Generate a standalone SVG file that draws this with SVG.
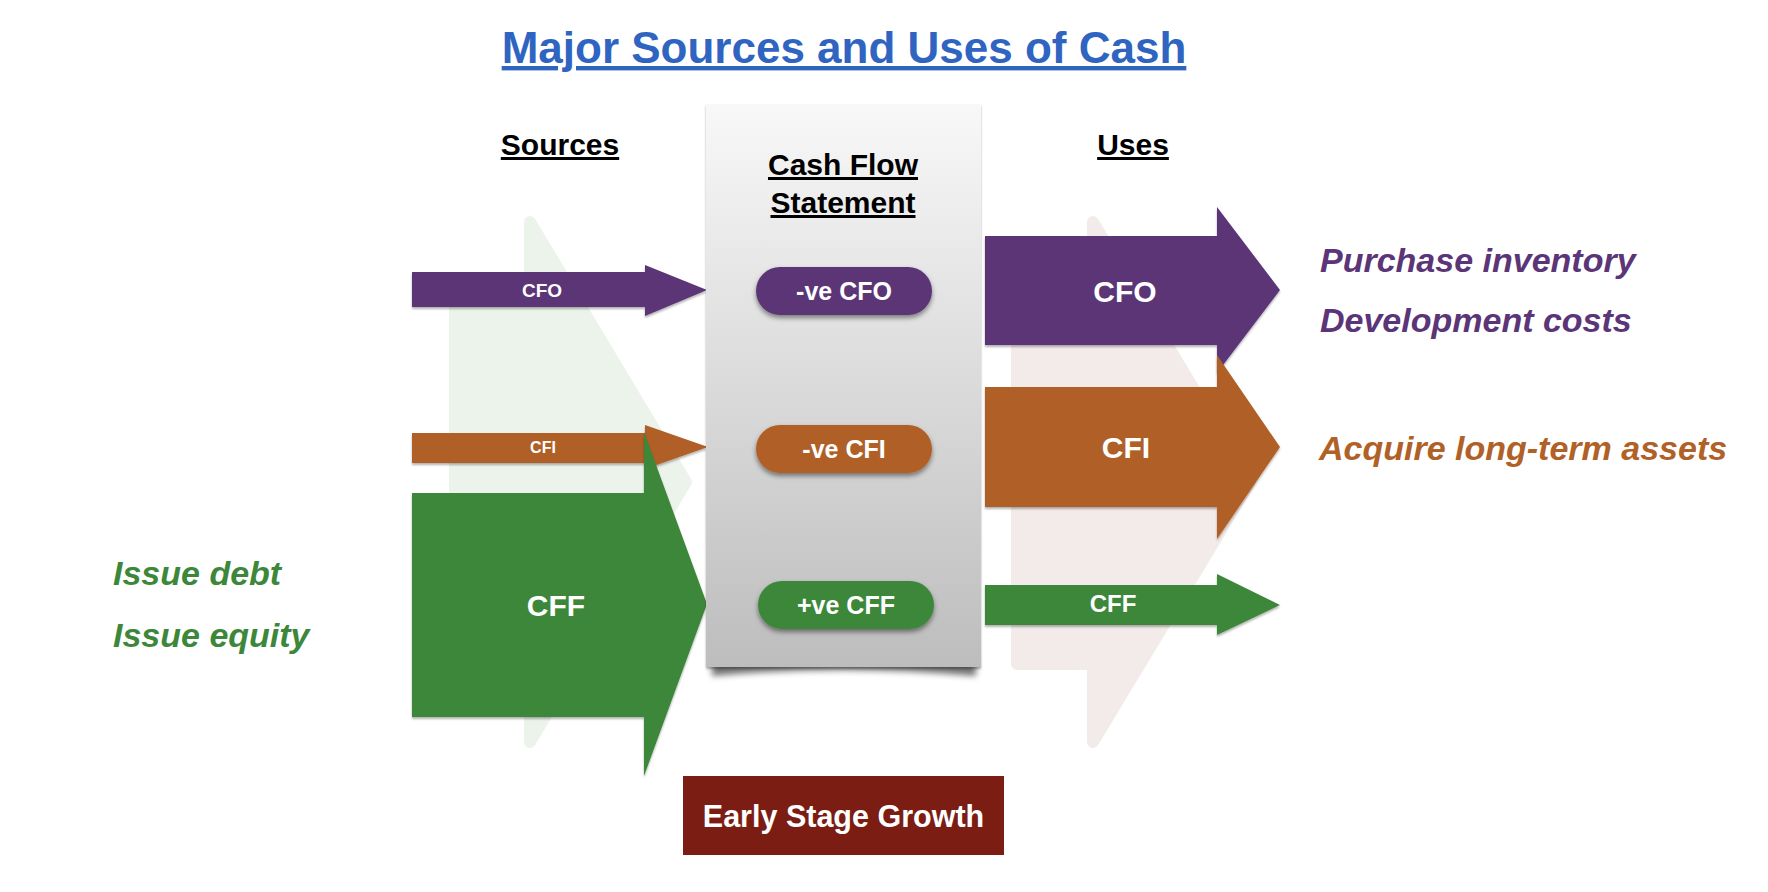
<svg xmlns="http://www.w3.org/2000/svg" width="1768" height="892" viewBox="0 0 1768 892">
  <defs>
    <linearGradient id="panelGrad" x1="0" y1="0" x2="0" y2="1">
      <stop offset="0" stop-color="#f8f8f8"/>
      <stop offset="1" stop-color="#bdbdbd"/>
    </linearGradient>
    <filter id="shadow" x="-10%" y="-10%" width="120%" height="130%">
      <feDropShadow dx="0" dy="3" stdDeviation="2.5" flood-color="#000" flood-opacity="0.45"/>
    </filter>
    <filter id="softShadow" x="-5%" y="-10%" width="110%" height="130%">
      <feDropShadow dx="0" dy="2" stdDeviation="1" flood-color="#000" flood-opacity="0.3"/>
    </filter>
    <filter id="blur" x="-10%" y="-50%" width="120%" height="200%">
      <feGaussianBlur stdDeviation="3"/>
    </filter>
  </defs>
  <style>
    text { font-family: "Liberation Sans", Arial, sans-serif; font-weight: bold; }
    .title { font-size: 44px; fill: #2f65c1; text-decoration: underline; }
    .head { font-size: 30px; fill: #000; text-decoration: underline; }
    .lbl { fill: #fff; text-anchor: middle; }
    .side { font-size: 34px; font-style: italic; }
    .purple { fill: #5b3577; }
    .orange { fill: #b06127; }
    .green { fill: #3d873b; }
    .faintG { fill: #ebf3eb; stroke: #ebf3eb; stroke-width: 12; stroke-linejoin: round; }
    .faintR { fill: #f3ebea; stroke: #f3ebea; stroke-width: 12; stroke-linejoin: round; }
  </style>

  <rect x="0" y="0" width="1768" height="892" fill="#ffffff"/>

  <!-- Title -->
  <text id="title" class="title" x="844" y="63" text-anchor="middle">Major Sources and Uses of Cash</text>
  <text id="sources-heading" class="head" x="560" y="155" text-anchor="middle">Sources</text>
  <text id="uses-heading" class="head" x="1133" y="155" text-anchor="middle">Uses</text>

  <!-- Faint background shapes -->
  <g id="bg-shapes">
    <path class="faintG" d="M530,222 L686,482 L530,742 L530,664 L455,664 L455,296 L530,296 Z"/>
    <path class="faintR" d="M1093,222 L1250,482 L1093,742 L1093,664 L1017,664 L1017,296 L1093,296 Z"/>
  </g>

  <!-- Connectors (arrows) -->
  <g id="connectors">
    <g id="src-cfo">
      <polygon class="purple" filter="url(#softShadow)" points="412,272 645,272 645,265 707,290 645,316 645,307 412,307"/>
      <text class="lbl" x="542" y="297" font-size="19">CFO</text>
    </g>
    <g id="src-cfi">
      <polygon class="orange" filter="url(#softShadow)" points="412,433 645,433 645,425 708,447 645,469 645,463 412,463"/>
      <text class="lbl" x="543" y="453" font-size="16">CFI</text>
    </g>
    <g id="src-cff">
      <polygon class="green" filter="url(#softShadow)" points="412,493 644,493 644,432 707,604 644,776 644,717 412,717"/>
      <text class="lbl" x="556" y="616" font-size="30">CFF</text>
    </g>
    <g id="use-cfo">
      <polygon class="purple" filter="url(#softShadow)" points="985,236 1217,236 1217,207 1280,290 1217,373 1217,345 985,345"/>
      <text class="lbl" x="1125" y="302" font-size="30">CFO</text>
    </g>
    <g id="use-cfi">
      <polygon class="orange" filter="url(#softShadow)" points="985,387 1217,387 1217,355 1280,447 1217,539 1217,507 985,507"/>
      <text class="lbl" x="1126" y="458" font-size="30">CFI</text>
    </g>
    <g id="use-cff">
      <polygon class="green" filter="url(#softShadow)" points="985,585 1217,585 1217,574 1280,605 1217,635 1217,625 985,625"/>
      <text class="lbl" x="1113" y="612" font-size="24">CFF</text>
    </g>
  </g>

  <!-- Central panel -->
  <g id="cash-flow-statement">
    <path d="M712,655 L976,655 L976,676 Q843,664 712,676 Z" fill="#000" opacity="0.55" filter="url(#blur)"/>
    <rect x="706" y="104" width="275" height="563" fill="url(#panelGrad)" filter="url(#softShadow)"/>
    <text class="head" x="843" y="175" text-anchor="middle">Cash Flow</text>
    <text class="head" x="843" y="213" text-anchor="middle">Statement</text>
  </g>

  <g id="pill-cfo">
    <rect class="purple" x="756" y="267" width="176" height="48" rx="24" filter="url(#shadow)"/>
    <text class="lbl" x="844" y="300" font-size="25">-ve CFO</text>
  </g>
  <g id="pill-cfi">
    <rect class="orange" x="756" y="425" width="176" height="48" rx="24" filter="url(#shadow)"/>
    <text class="lbl" x="844" y="458" font-size="25">-ve CFI</text>
  </g>
  <g id="pill-cff">
    <rect class="green" x="758" y="581" width="176" height="48" rx="24" filter="url(#shadow)"/>
    <text class="lbl" x="846" y="614" font-size="25">+ve CFF</text>
  </g>

  <!-- Side texts -->
  <g id="uses-text">
    <text class="side purple" x="1320" y="272">Purchase inventory</text>
    <text class="side purple" x="1320" y="332">Development costs</text>
    <text class="side orange" x="1319" y="460">Acquire long-term assets</text>
  </g>
  <g id="sources-text">
    <text class="side green" x="113" y="585">Issue debt</text>
    <text class="side green" x="113" y="647">Issue equity</text>
  </g>

  <!-- Stage box -->
  <g id="stage">
    <rect x="683" y="776" width="321" height="79" fill="#7b1d13"/>
    <text class="lbl" x="843.5" y="827" font-size="30.5">Early Stage Growth</text>
  </g>
</svg>
